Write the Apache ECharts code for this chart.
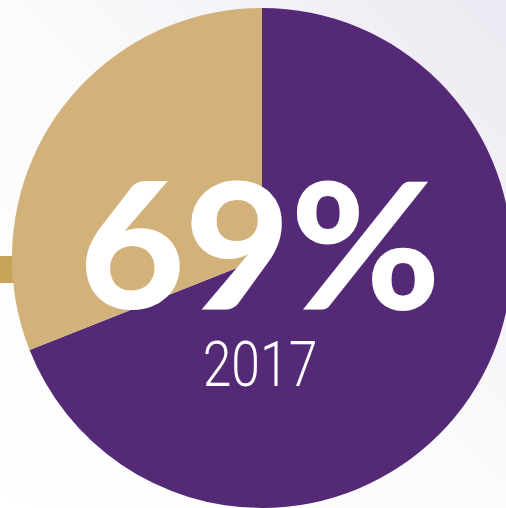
<!DOCTYPE html>
<html>
<head>
<meta charset="utf-8">
<script src="https://cdn.jsdelivr.net/npm/echarts@6/dist/echarts.min.js"></script>
<style>
html,body{margin:0;padding:0;}
#c{width:506px;height:508px;}
</style>
</head>
<body>
<div id="c"></div>
<script>
var categories = ['2017', 'Other'];
var values = [69, 31];
var bigLabel = '69%';
var yearLabel = '2017';

var chart = echarts.init(document.getElementById('c'), null, {renderer: 'canvas'});
chart.setOption({
  backgroundColor: new echarts.graphic.LinearGradient(0, 1, 1, 0, [
    {offset: 0, color: '#ffffff'},
    {offset: 0.5, color: '#fbfbfc'},
    {offset: 1, color: '#ece9f2'}
  ]),
  animation: false,
  graphic: [
    {type: 'rect', left: 0, top: 256, shape: {width: 14, height: 27}, style: {fill: '#c6a55a'}, z: 0},
    {type: 'text', x: 260, y: 165, scaleX: 1.04, z: 100,
      style: {text: bigLabel, fill: '#ffffff', font: '900 175px Lato', textAlign: 'center', textVerticalAlign: 'top',
        shadowColor: 'rgba(30,10,40,0.45)', shadowBlur: 16, shadowOffsetX: 8, shadowOffsetY: 8}},
    {type: 'text', x: 260, y: 339, scaleX: 0.82, z: 100,
      style: {text: yearLabel, fill: '#ffffff', font: '300 63px Roboto', textAlign: 'center', textVerticalAlign: 'top'}}
  ],
  series: [{
    type: 'pie',
    center: [262, 258],
    radius: 250,
    startAngle: 90,
    clockwise: true,
    silent: true,
    label: {show: false},
    labelLine: {show: false},
    z: 2,
    data: categories.map(function (c, i) {
      return {name: c, value: values[i], itemStyle: {color: i === 0 ? '#542a77' : '#d2b27a'}};
    })
  }]
});
</script>
</body>
</html>
